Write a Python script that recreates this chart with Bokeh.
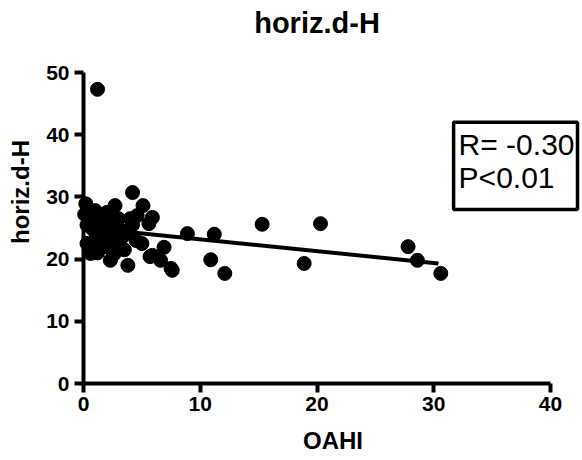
from bokeh.plotting import figure
from bokeh.models import Range1d, Label, FixedTicker
from bokeh.embed import file_html
from bokeh.resources import INLINE

# OAHI vs horiz.d-H
oahi = [1.2, 8.9, 11.2, 15.3, 20.3, 6.9, 6.6, 5.9, 7.6, 10.9, 12.1, 18.9,
        27.8, 28.6, 30.6,
        0.2, 0.1, 0.5, 0.3, 1.0, 1.5, 2.0, 2.7, 0.8, 1.3, 2.2, 3.0, 1.8, 2.5,
        0.3, 0.6, 0.6, 1.0, 1.5, 1.2, 2.0, 2.8, 3.3, 3.5, 2.3, 3.8, 2.6, 3.0,
        3.8, 4.2, 4.5, 4.2, 5.1, 4.6, 5.9, 5.6, 4.0, 5.0, 5.7, 0.4, 1.7, 1.1,
        2.4, 7.5]
horiz_dh = [47.3, 24.1, 24.0, 25.6, 25.7, 21.9, 19.8, 20.6, 18.2, 19.9, 17.7, 19.3,
            22.0, 19.8, 17.7,
            28.9, 27.2, 26.5, 25.5, 27.8, 27.0, 27.5, 28.6, 24.8, 25.5, 26.0, 26.5,
            24.5, 24.0, 22.5, 21.5, 20.9, 22.5, 23.0, 21.0, 22.0, 22.8, 23.5, 21.5,
            19.8, 19.0, 20.8, 25.0, 24.5, 25.5, 23.0, 30.7, 28.6, 27.0, 26.7, 25.7,
            26.5, 22.5, 20.4, 27.5, 26.2, 23.8, 23.0, 18.5]

fit_x = [0.0, 30.4]
fit_y = [25.1, 19.3]

x_ticks = [0, 10, 20, 30, 40]
y_ticks = [0, 10, 20, 30, 40, 50]
title_text = "horiz.d-H"
stats_text = "R= -0.30\nP<0.01"

FONT = "Liberation Sans"

p = figure(width=582, height=458, output_backend="svg", toolbar_location=None,
           x_range=Range1d(0, 42.74), y_range=Range1d(0, 61.58),
           min_border_left=83, min_border_right=0, min_border_top=0,
           min_border_bottom=75)

p.outline_line_color = None
p.grid.visible = False

for ax, ticks in ((p.xaxis[0], x_ticks), (p.yaxis[0], y_ticks)):
    ax.ticker = FixedTicker(ticks=ticks)
    ax.minor_tick_line_color = None
    ax.axis_line_width = 4
    ax.axis_line_color = "black"
    ax.major_tick_line_width = 4
    ax.major_tick_line_color = "black"
    ax.major_tick_out = 9
    ax.major_tick_in = 0
    ax.major_label_text_font = FONT
    ax.major_label_text_font_size = "21px"
    ax.major_label_text_font_style = "bold"
    ax.major_label_text_color = "black"
    ax.axis_label_text_font = FONT
    ax.axis_label_text_font_size = "24px"
    ax.axis_label_text_font_style = "bold"
    ax.axis_label_text_color = "black"

p.xaxis.bounds = (0, 40)
p.yaxis.bounds = (0, 50)
p.xaxis.axis_label = "OAHI"
p.yaxis.axis_label = "horiz.d-H"
p.xaxis.major_label_standoff = 4
p.yaxis.major_label_standoff = 5
p.xaxis.axis_label_standoff = 13
p.yaxis.axis_label_standoff = 9

line = p.line(fit_x, fit_y, line_color="black", line_width=4)
pts = p.scatter(oahi, horiz_dh, size=14, fill_color="black", line_color="black")
pts.level = "overlay"

title = Label(x=20, y=57.9, text=title_text, text_font=FONT, text_font_size="29px",
              text_font_style="bold", text_color="black",
              text_align="center", text_baseline="alphabetic")
p.add_layout(title)

lab = Label(x=31.7, y=42.0, text=stats_text, text_font=FONT, text_font_size="30px",
            text_color="black", text_baseline="top", text_align="left",
            border_line_color="black", border_line_width=3.5,
            background_fill_color="white",
            padding=dict(left=5, right=3, top=6, bottom=16),
            text_line_height=0.98)
p.add_layout(lab)

open("out.html", "w").write(file_html(p, INLINE))
